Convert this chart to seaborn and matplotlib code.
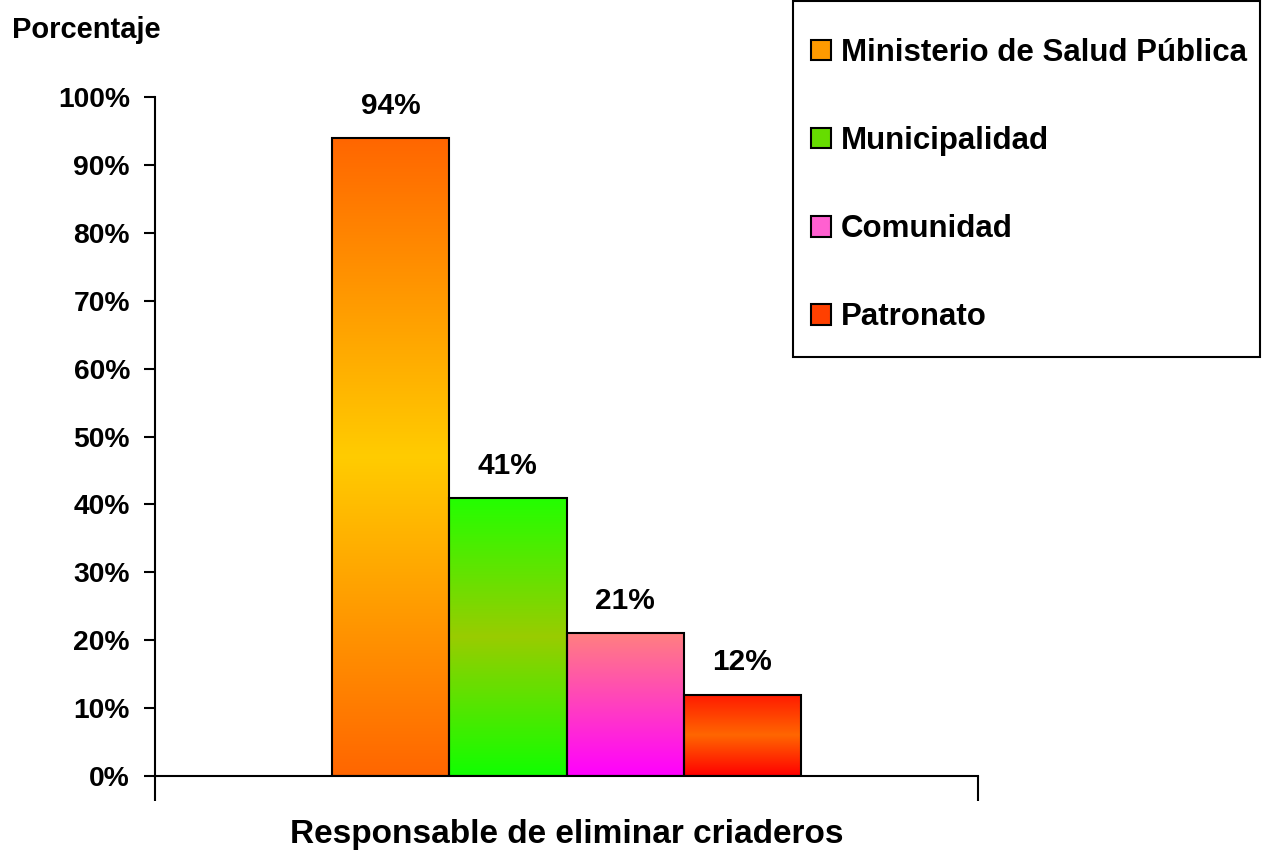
"""Bar chart: responsable de eliminar criaderos."""

import matplotlib

matplotlib.use("Agg")
import matplotlib.pyplot as plt
import numpy as np
import pandas as pd
import seaborn as sns
from matplotlib.colors import LinearSegmentedColormap
from matplotlib.ticker import PercentFormatter

# data
grupo = "Responsable de eliminar criaderos"
responsables = ["Ministerio de Salud Pública", "Municipalidad", "Comunidad", "Patronato"]
valores = [0.94, 0.41, 0.21, 0.12]
etiquetas = ["94%", "41%", "21%", "12%"]

# solid colours for the legend, gradient stops (bottom -> top) for the bars
colores = ["#FF9A00", "#66DD00", "#FF60D0", "#FF4000"]
degradados = [
    ["#FF6600", "#FFCC00", "#FF6600"],
    ["#11FF00", "#99CC00", "#22FF00"],
    ["#FF00FF", "#FF8080"],
    ["#FF0000", "#FF6600", "#FF1A00"],
]

df = pd.DataFrame({"grupo": [grupo] * len(valores), "responsable": responsables, "valor": valores})

sns.set_style("white")
plt.rcParams["font.family"] = ["Liberation Sans", "DejaVu Sans"]
plt.rcParams["font.weight"] = "bold"
for k in ["text.color", "axes.labelcolor", "xtick.color", "ytick.color"]:
    plt.rcParams[k] = "black"

fig = plt.figure(figsize=(12.62, 8.52), dpi=100)
ax = fig.add_axes([155 / 1262, 1 - 776 / 852, 823 / 1262, 679 / 852])

sns.barplot(
    data=df, x="grupo", y="valor", hue="responsable", palette=colores,
    width=0.57, edgecolor="black", linewidth=1.5, ax=ax, legend=False,
)

# gradient fills clipped to each bar
for cont, stops in zip(ax.containers, degradados):
    cmap = LinearSegmentedColormap.from_list("g", stops)
    grad = np.linspace(0, 1, 256).reshape(-1, 1)
    for bar in cont:
        x, w, h = bar.get_x(), bar.get_width(), bar.get_height()
        im = ax.imshow(grad, cmap=cmap, extent=[x, x + w, 0, h], origin="lower",
                       aspect="auto", zorder=bar.get_zorder() - 0.1)
        im.set_clip_path(bar)
        bar.set_facecolor("none")

for cont, txt in zip(ax.containers, etiquetas):
    ax.bar_label(cont, labels=[txt], padding=13, fontsize=21.5, fontweight="bold")

ax.set_xlim(-0.5, 0.5)
ax.set_ylim(0, 1.0)
ax.set_yticks(np.arange(0, 1.01, 0.1))
ax.yaxis.set_major_formatter(PercentFormatter(1.0, decimals=0))
ax.set_xticks([-0.5, 0.5])
ax.set_xticklabels(["", ""])
ax.tick_params(axis="y", direction="out", length=8, width=1.5, pad=10, labelsize=20.3, left=True)
ax.tick_params(axis="x", direction="out", length=18, width=1.5, bottom=True)
for s in ["top", "right"]:
    ax.spines[s].set_visible(False)
for s in ["left", "bottom"]:
    ax.spines[s].set_linewidth(1.5)
    ax.spines[s].set_color("black")

ax.set_xlabel(grupo, fontsize=24, fontweight="bold")
ax.xaxis.set_label_coords(0.5, -0.063)
ax.xaxis.label.set_va("top")
ax.set_ylabel("Porcentaje", fontsize=21, fontweight="bold", rotation=0, ha="left", va="top")
ax.yaxis.set_label_coords(-0.174, 1.12)

# legend: entries placed without frame, box drawn separately
handles = [plt.Rectangle((0, 0), 1, 1, facecolor=c, edgecolor="black", linewidth=1.5) for c in colores]
fig.legend(
    handles, responsables, loc="upper left", bbox_to_anchor=(811 / 1262, 1 - 38 / 852),
    borderaxespad=0, borderpad=0, frameon=False,
    prop={"weight": "bold", "size": 22.5},
    handlelength=0.64, handleheight=0.64, handletextpad=0.32, labelspacing=1.86,
)
fig.patches.append(plt.Rectangle(
    (793 / 1262, 1 - 357 / 852), (1260 - 793) / 1262, 356 / 852,
    transform=fig.transFigure, fill=False, edgecolor="black", linewidth=1.5,
))

fig.savefig("out.png", dpi=100)
